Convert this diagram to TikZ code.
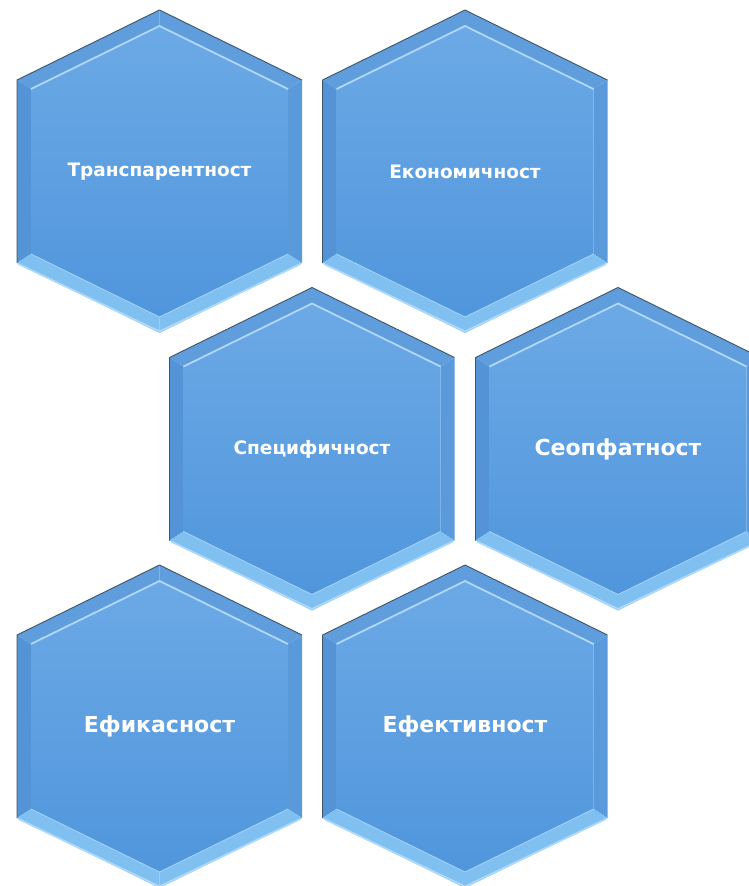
\documentclass[tikz,border=0pt]{standalone}
\usepackage{fontspec}
\setmainfont{DejaVu Sans}
\usepackage{tikz}
\usetikzlibrary{calc}

\definecolor{hexTop}{HTML}{6CA9E6}
\definecolor{hexBot}{HTML}{5096DC}
\definecolor{bandUp}{HTML}{609DDD}
\definecolor{bandLeft}{HTML}{5393D6}
\definecolor{bandRight}{HTML}{5A9ADB}
\definecolor{bandLow}{HTML}{80C0F1}
\definecolor{shine}{HTML}{B0D8F8}
\definecolor{rim}{HTML}{3F5468}

% one bevelled hexagon: name, centre x, centre y, label, font size
\newcommand{\hexcell}[5]{%
  \begin{scope}[shift={(#2,#3)}]
    % bevel bands
    \fill[bandUp] (-142.5,-91.5) -- (0,-161.5) -- (0,-145.5) -- (-128.5,-82.5) -- cycle;
    \fill[bandUp] (142.5,-91.5) -- (0,-161.5) -- (0,-145.5) -- (128.5,-82.5) -- cycle;
    \fill[bandLeft] (-142.5,-91.5) -- (-128.5,-82.5) -- (-128.5,82.5) -- (-142.5,91.5) -- cycle;
    \fill[bandRight] (142.5,-91.5) -- (128.5,-82.5) -- (128.5,82.5) -- (142.5,91.5) -- cycle;
    \fill[bandLow] (-142.5,91.5) -- (0,161.5) -- (0,145.5) -- (-128.5,82.5) -- cycle;
    \fill[bandLow] (142.5,91.5) -- (0,161.5) -- (0,145.5) -- (128.5,82.5) -- cycle;
    % face
    \shade[top color=hexTop,bottom color=hexBot]
      (0,-145.5) -- (128.5,-82.5) -- (128.5,82.5) -- (0,145.5)
      -- (-128.5,82.5) -- (-128.5,-82.5) -- cycle;
    % light edges
    \draw[shine,line width=1.8pt] (-128.5,-82.5) -- (0,-145.5) -- (128.5,-82.5);
    \draw[shine,line width=1.8pt] (-141,92.5) -- (0,160) -- (141,92.5);
    \draw[bandLow!70!white,line width=0.8pt] (-128.5,82.5) -- (0,145.5) -- (128.5,82.5);
    % dark rim
    \draw[rim,line width=0.9pt,line join=round] (-142.5,91.5) -- (-142.5,-91.5) -- (0,-161.5) -- (142.5,-91.5);
  \end{scope}
  \node[hexlabel,font=\fontsize{#5}{#5}\selectfont\bfseries] (#1) at (#2,#3) {#4};
}

\begin{document}
\begin{tikzpicture}[x=1pt,y=-1pt,
    hexlabel/.style={text=white,inner sep=0pt,anchor=center}]
  \useasboundingbox (0,0) rectangle (749,886);
  \clip (0,0) rectangle (749,886);
  % top row
  \hexcell{transp}{159.5}{171.5}{Транспарентност}{18.5}
  \hexcell{ekon}{465}{171.5}{Економичност}{18.5}
  % middle row
  \hexcell{spec}{312}{449}{Специфичност}{18.5}
  \hexcell{seopf}{618}{449}{Сеопфатност}{22}
  % bottom row
  \hexcell{efik}{159.5}{726.5}{Ефикасност}{22}
  \hexcell{efekt}{465}{726.5}{Ефективност}{22}
\end{tikzpicture}
\end{document}
